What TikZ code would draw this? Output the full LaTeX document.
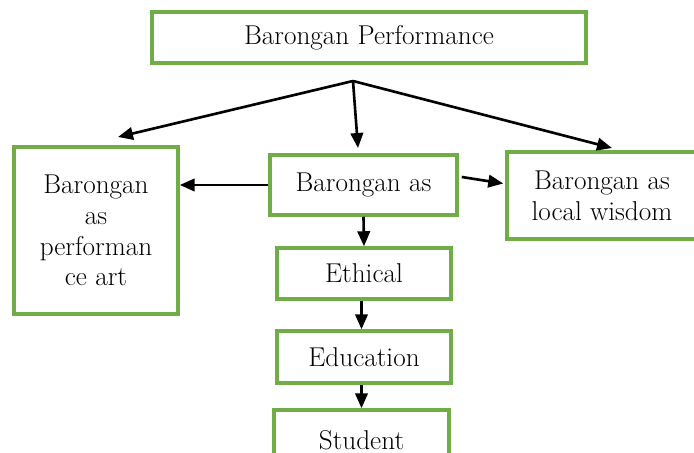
\documentclass[tikz,border=0pt]{standalone}
\usetikzlibrary{arrows.meta}
\definecolor{boxgreen}{RGB}{112,173,71}
\begin{document}
\begin{tikzpicture}[x=0.02cm, y=-0.02cm, every node/.style={font=\fontsize{15.5}{17.5}\selectfont},
  bx/.style={draw=boxgreen,line width=2pt,align=center,inner sep=2pt},
  arr/.style={-{Triangle[length=0.3cm,width=0.25cm]},line width=1.5pt}]
\clip (0,0) rectangle (694,453);
\node[bx,minimum width=8.68cm,minimum height=1.02cm] (perfm) at (369,37.5) {Barongan Performance};
\node[bx,minimum width=3.28cm,minimum height=3.34cm] (art) at (96,230.5) {Barongan\\ as\\ performan\\ ce art};
\node[bx,minimum width=3.74cm,minimum height=1.2cm] (asbox) at (363.5,185) {Barongan as};
\node[bx,minimum width=3.8cm,minimum height=1.74cm] (wisdom) at (602,195.5) {Barongan as\\ local wisdom};
\node[bx,minimum width=3.48cm,minimum height=1.02cm] (ethical) at (364,273.5) {Ethical};
\node[bx,minimum width=3.48cm,minimum height=1.04cm] (educ) at (364,357) {Education};
\node[bx,minimum width=3.5cm,minimum height=1.2cm] (student) at (361.5,440) {Student};
% fork under the top box
\coordinate (fork) at (353,81);
\coordinate (toart) at (118,137);
\coordinate (tomid) at (358,148);
\coordinate (towis) at (612,148);
\draw[arr] (fork) -- (toart);
\draw[arr] (fork) -- (tomid);
\draw[arr] (fork) -- (towis);
\draw[arr] (asbox.west) -- (asbox.west -| art.east);
\draw[arr] ([shift={(3,-8)}]asbox.east) -- ([shift={(-2,-12)}]wisdom.west);
\draw[arr] (asbox.south) -- (ethical.north);
\draw[arr] (ethical.south -| student.north) -- (student.north |- educ.north);
\draw[arr] (educ.south -| student.north) -- (student.north);
\end{tikzpicture}
\end{document}
